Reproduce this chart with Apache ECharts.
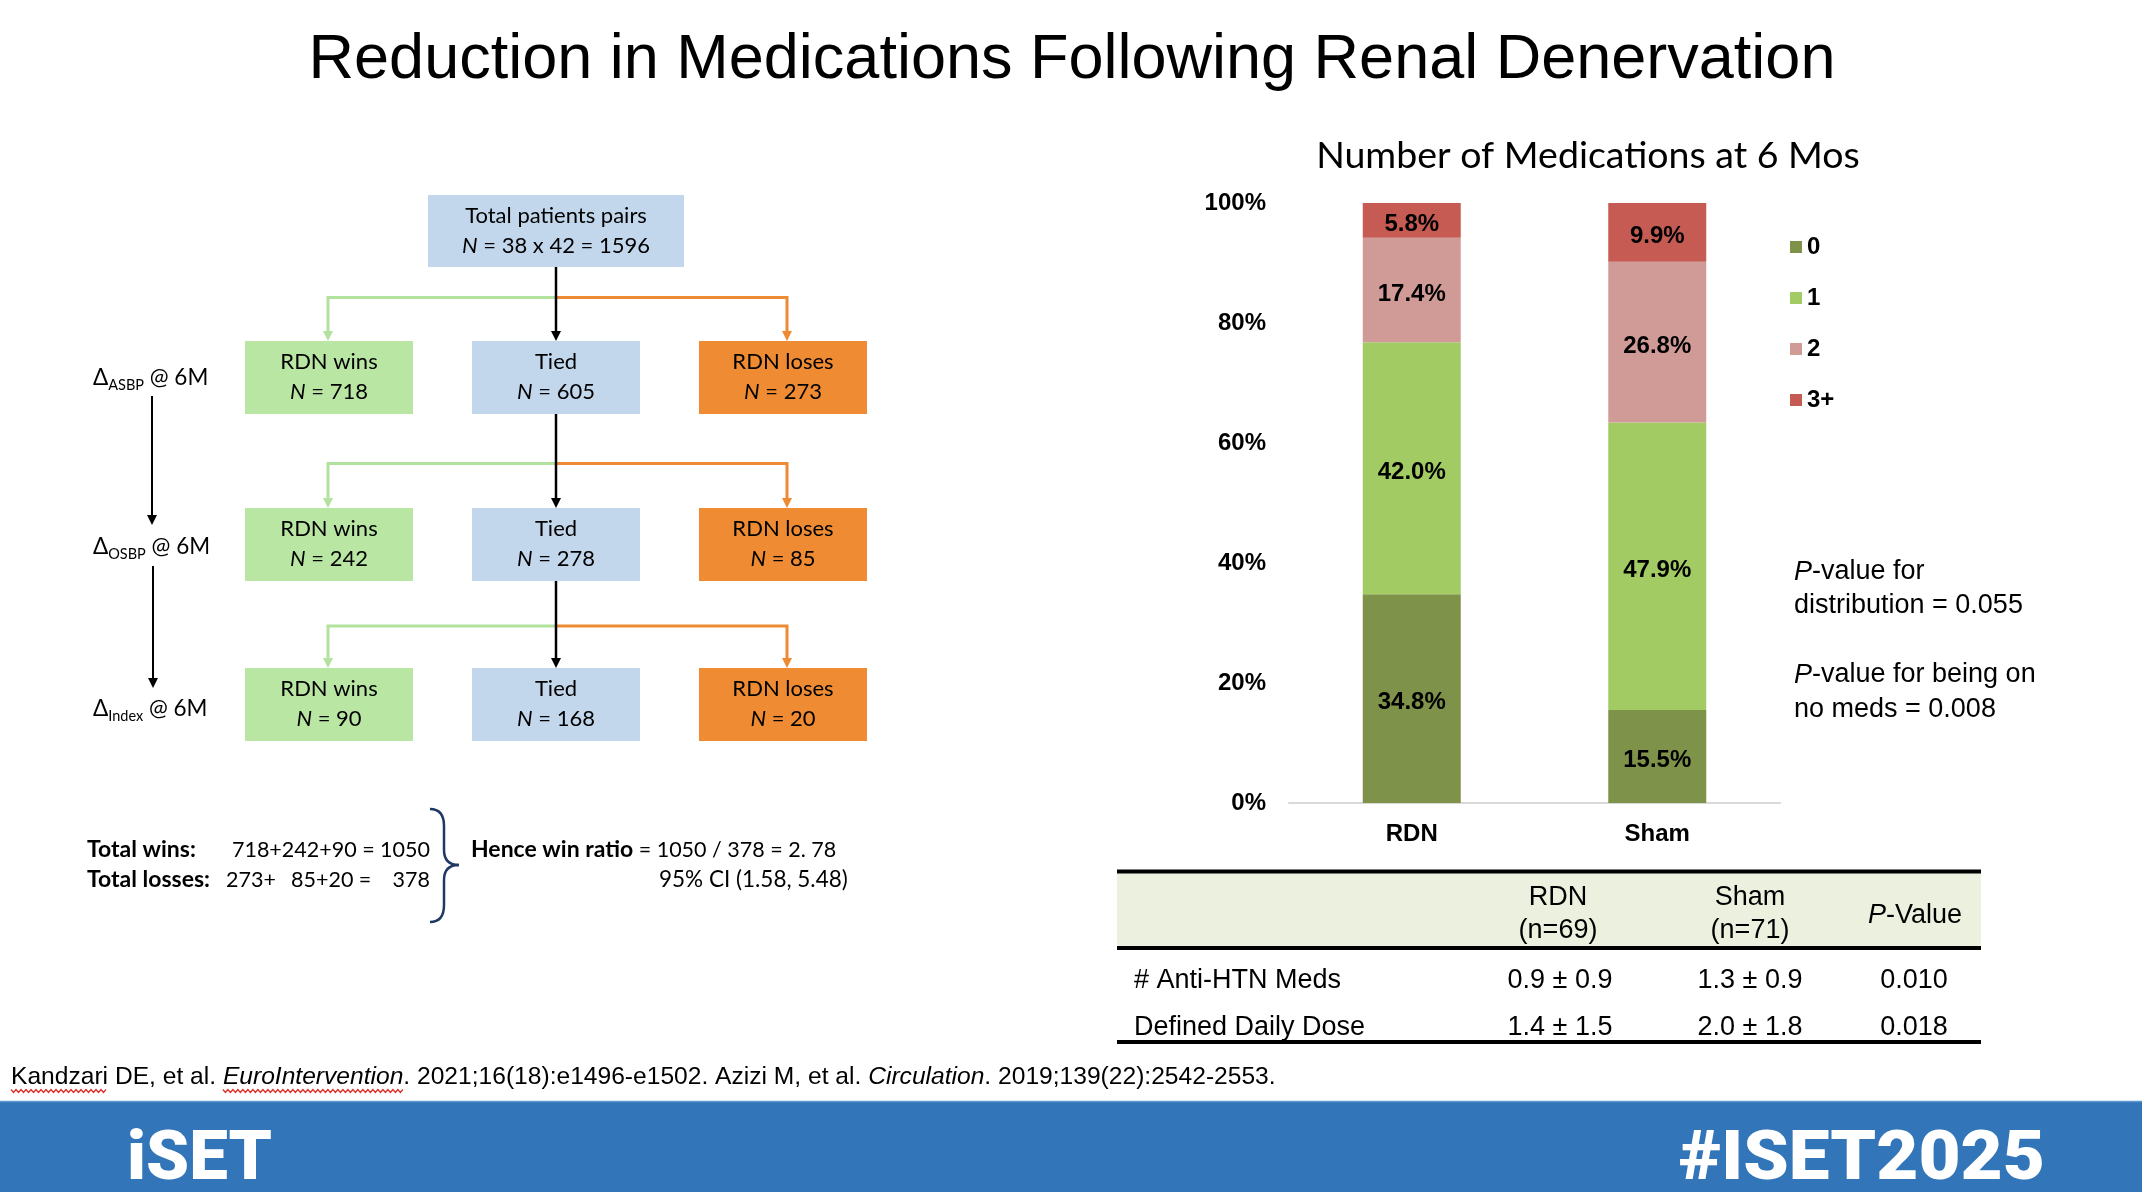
<!DOCTYPE html>
<html><head><meta charset="utf-8">
<script src="https://cdn.jsdelivr.net/npm/echarts@6/dist/echarts.min.js"></script>
<style>html,body{margin:0;padding:0;background:#fff}#c{width:2142px;height:1192px}</style>
</head><body><div id="c"></div>
<script>
// ---------- data ----------
const categories = ['RDN', 'Sham'];
const seriesNames = ['0', '1', '2', '3+'];
const meds0 = [34.8, 15.5];
const meds1 = [42.0, 47.9];
const meds2 = [17.4, 26.8];
const meds3 = [5.8, 9.9];
const yTickStep = 20;
const flowTotal = 'N = 38 x 42 = 1596';
const flowWins = [718, 242, 90];
const flowTied = [605, 278, 168];
const flowLoses = [273, 85, 20];
const flowLevels = ['ASBP', 'OSBP', 'Index'];
const tableHeaders = [['RDN', '(n=69)'], ['Sham', '(n=71)'], ['P-Value']];
const tableRows = ['# Anti-HTN Meds', 'Defined Daily Dose'];
const tableRDN = ['0.9 ± 0.9', '1.4 ± 1.5'];
const tableSham = ['1.3 ± 0.9', '2.0 ± 1.8'];
const tableP = ['0.010', '0.018'];

// ---------- styles ----------
const ARIAL = '"Liberation Sans", Arial, sans-serif';
const CAL = 'Lato, "Open Sans", sans-serif';
const colors = ['#7F9249', '#A2CC63', '#D09B97', '#C55B53'];
const BOXFILL = {wins: '#B9E6A3', tied: '#C3D7EC', loses: '#EE8B33'};
const GREEN = '#B3E19E', ORANGE = '#EC8B34';

const g = [];
function T(x, y, text, st, extra) {
  const s = Object.assign({text: text, fontSize: 22, fontFamily: CAL, fill: '#000',
    align: 'center', verticalAlign: 'middle', textAlign: 'center', textVerticalAlign: 'middle'}, st || {});
  if (st && st.align && !st.textAlign) s.textAlign = st.align;
  g.push(Object.assign({type: 'text', x: x, y: y, z: 20, style: s}, extra || {}));
}
function R(x, y, w, h, fill) { g.push({type: 'rect', z: 5, shape: {x: x, y: y, width: w, height: h}, style: {fill: fill}}); }
function L(x1, y1, x2, y2, c, w) { g.push({type: 'line', z: 8, shape: {x1: x1, y1: y1, x2: x2, y2: y2}, style: {stroke: c, lineWidth: w}}); }
function Q(x1, y1, cx, cy, x2, y2, c, w) { g.push({type: 'bezierCurve', z: 8, shape: {x1: x1, y1: y1, cpx1: cx, cpy1: cy, x2: x2, y2: y2}, style: {stroke: c, lineWidth: w, fill: null}}); }
function head(x, y, c) { g.push({type: 'polygon', z: 9, shape: {points: [[x - 5, y - 10], [x + 5, y - 10], [x, y]]}, style: {fill: c}}); }
const measureCtx = document.createElement('canvas').getContext('2d');
function textW(str, font) { measureCtx.font = font; return measureCtx.measureText(str).width; }

// ---------- title ----------
T(1072, 61, 'Reduction in Medications Following Renal Denervation', {fontSize: 63, fontFamily: ARIAL});

// ---------- flowchart ----------
const colX = {wins: 245, tied: 472, loses: 699};
const BW = 168, BH = 73;
const rowY = [341, 508, 668];
const CX = 556, GX = 328, OX = 787;
const nRich = {i: {fontStyle: 'italic', fontSize: 22, fontFamily: CAL}, r: {fontSize: 22, fontFamily: CAL}};

R(428, 195, 256, 72, BOXFILL.tied);
T(556, 216, 'Total patients pairs');
T(556, 246, '{i|N}{r|' + flowTotal.slice(1) + '}', {rich: nRich});

const srcBottoms = [267, rowY[0] + BH, rowY[1] + BH];
const branchYs = [297.5, 463.5, 626];
for (let i = 0; i < 3; i++) {
  const top = rowY[i];
  const by = branchYs[i];
  g.push({type: 'polyline', z: 7, shape: {points: [[CX, by], [GX, by], [GX, top - 9]]}, style: {stroke: GREEN, lineWidth: 3, fill: null}});
  head(GX, top, GREEN);
  g.push({type: 'polyline', z: 7, shape: {points: [[CX, by], [OX, by], [OX, top - 9]]}, style: {stroke: ORANGE, lineWidth: 3, fill: null}});
  head(OX, top, ORANGE);
  L(CX, srcBottoms[i], CX, top - 9, '#000', 2.5);
  head(CX, top, '#000');
  const vals = {wins: flowWins[i], tied: flowTied[i], loses: flowLoses[i]};
  const titles = {wins: 'RDN wins', tied: 'Tied', loses: 'RDN loses'};
  ['wins', 'tied', 'loses'].forEach(function (k) {
    R(colX[k], top, BW, BH, BOXFILL[k]);
    T(colX[k] + BW / 2, top + 21, titles[k]);
    T(colX[k] + BW / 2, top + 51, '{i|N}{r| = ' + vals[k] + '}', {rich: nRich});
  });
}
// left labels
const lvlY = [378, 547, 709];
for (let i = 0; i < 3; i++) {
  T(93, lvlY[i], '{a|Δ}{s|' + flowLevels[i] + '}{a| @ 6M}', {
    align: 'left', textAlign: 'left',
    rich: {a: {fontSize: 22.5, fontFamily: CAL, lineHeight: 30}, s: {fontSize: 14.5, fontFamily: CAL, lineHeight: 14, verticalAlign: 'bottom'}}
  });
}
L(152, 396, 152, 515, '#000', 2);
head(152, 525, '#000');
L(153, 566, 153, 678, '#000', 2);
head(153, 688, '#000');

// summary
const LEFT = {align: 'left', textAlign: 'left', fontSize: 21.5};
const BOLD = {align: 'left', textAlign: 'left', fontSize: 23, fontWeight: 'bold'};
T(87, 850, 'Total wins:', BOLD);
T(430, 850, flowWins.join('+') + ' = ' + flowWins.reduce(function (a, b) { return a + b; }, 0), {align: 'right', textAlign: 'right', fontSize: 21.5});
T(87, 880, 'Total losses:', BOLD);
T(226, 880, flowLoses[0] + '+', LEFT);
T(291, 880, flowLoses[1] + '+' + flowLoses[2] + ' =', LEFT);
T(430, 880, String(flowLoses.reduce(function (a, b) { return a + b; }, 0)), {align: 'right', textAlign: 'right', fontSize: 21.5});
// brace
const BC = '#1F3864';
Q(430, 809, 444, 809, 444, 826, BC, 2.5);
L(444, 826, 444, 850, BC, 2.5);
Q(444, 850, 444, 865, 459, 865, BC, 2.5);
Q(459, 865, 444, 865, 444, 880, BC, 2.5);
L(444, 880, 444, 905, BC, 2.5);
Q(444, 905, 444, 922, 430, 922, BC, 2.5);
T(471, 850, '{b|Hence win ratio}{r| = 1050 / 378 = 2. 78}', Object.assign({}, LEFT, {
  rich: {b: {fontWeight: 'bold', fontSize: 23, fontFamily: CAL}, r: {fontSize: 21.5, fontFamily: CAL}}}));
T(659, 880, '95% CI (1.58, 5.48)', {align: 'left', textAlign: 'left', fontSize: 22.5});

// ---------- chart title & annotations ----------
T(1588, 156, 'Number of Medications at 6 Mos', {fontSize: 37.5});
const pRich = {i: {fontStyle: 'italic', fontSize: 27, fontFamily: ARIAL}, r: {fontSize: 27, fontFamily: ARIAL}};
const PL = {align: 'left', textAlign: 'left', fontSize: 27, fontFamily: ARIAL, rich: pRich};
T(1794, 572, '{i|P}{r|-value for}', PL);
T(1794, 606, '{r|distribution = 0.055}', PL);
T(1794, 675, '{i|P}{r|-value for being on}', PL);
T(1794, 710, '{r|no meds = 0.008}', PL);

// ---------- table ----------
R(1117, 872, 864, 76, '#EBF0DF');
L(1117, 871.5, 1981, 871.5, '#000', 4);
L(1117, 948, 1981, 948, '#000', 4);
L(1117, 1042, 1981, 1042, '#000', 4);
const TS = {fontSize: 27, fontFamily: ARIAL};
const pRichT = {i: {fontStyle: 'italic', fontSize: 27, fontFamily: ARIAL}, r: {fontSize: 27, fontFamily: ARIAL}};
const colC = [1558, 1750, 1915];
tableHeaders.forEach(function (h, j) {
  if (h.length === 2) { T(colC[j], 898, h[0], TS); T(colC[j], 931, h[1], TS); }
  else T(colC[j], 915.5, '{i|P}{r|' + h[0].slice(1) + '}', Object.assign({}, TS, {rich: pRichT}));
});
const valC = [1560, 1750, 1914];
const rowYs = [981, 1027.5];
tableRows.forEach(function (r, i) {
  T(1134, rowYs[i], r, Object.assign({}, TS, {align: 'left', textAlign: 'left'}));
  T(valC[0], rowYs[i], tableRDN[i], TS);
  T(valC[1], rowYs[i], tableSham[i], TS);
  T(valC[2], rowYs[i], tableP[i], TS);
});

// ---------- footnote ----------
const FN = 24.6;
const fnParts = ['Kandzari DE, et al. ', 'EuroIntervention', '. 2021;16(18):e1496-e1502. Azizi M, et al. ', 'Circulation', '. 2019;139(22):2542-2553.'];
T(11, 1077, '{r|' + fnParts[0] + '}{i|' + fnParts[1] + '}{r|' + fnParts[2] + '}{i|' + fnParts[3] + '}{r|' + fnParts[4] + '}', {
  align: 'left', textAlign: 'left', fontSize: FN, fontFamily: ARIAL,
  rich: {r: {fontSize: FN, fontFamily: ARIAL}, i: {fontSize: FN, fontFamily: ARIAL, fontStyle: 'italic'}}});
function squiggle(x1, x2, y) {
  const pts = []; let up = true;
  for (let x = x1; x <= x2; x += 2.5) { pts.push([x, up ? y - 1.5 : y + 1.5]); up = !up; }
  g.push({type: 'polyline', z: 9, shape: {points: pts}, style: {stroke: '#E0302A', lineWidth: 1.3, fill: null}});
}
const fR = FN + 'px "Liberation Sans"', fI = 'italic ' + FN + 'px "Liberation Sans"';
const kW = textW('Kandzari', fR);
const eX = 11 + textW(fnParts[0], fR);
const eW = textW(fnParts[1], fI);
squiggle(11, 11 + kW, 1091);
squiggle(eX, eX + eW, 1091);

// ---------- footer ----------
R(0, 1101, 2142, 91, '#3276B9');
L(0, 1101.5, 2142, 1101.5, '#5F97CF', 1.5);
T(127, 1162, 'iSET', {align: 'left', textAlign: 'left', fontSize: 69, fontFamily: 'Roboto, sans-serif', fontWeight: 900, fill: '#fff'});
T(2045, 1162, '#ISET2025', {align: 'right', textAlign: 'right', fontSize: 69, fontFamily: 'Roboto, sans-serif', fontWeight: 900, fill: '#fff'}, {scaleX: 1.055});

// ---------- chart ----------
const seriesData = [meds0, meds1, meds2, meds3];
const option = {
  animation: false,
  backgroundColor: '#fff',
  textStyle: {fontFamily: ARIAL},
  grid: {left: 1289, top: 203, width: 491, height: 600, containLabel: false},
  legend: {
    data: seriesNames, orient: 'vertical', left: 1785, top: 230,
    itemWidth: 12, itemHeight: 12, itemGap: 27, icon: 'rect',
    textStyle: {fontSize: 24, fontWeight: 'bold', color: '#000', fontFamily: ARIAL, lineHeight: 24}
  },
  xAxis: {
    type: 'category', data: categories,
    axisLine: {lineStyle: {color: '#D9D9D9', width: 2}}, axisTick: {show: false},
    axisLabel: {fontSize: 24, fontWeight: 'bold', color: '#000', margin: 19, fontFamily: ARIAL}
  },
  yAxis: {
    type: 'value', min: 0, max: 100, interval: yTickStep,
    axisLine: {show: false}, axisTick: {show: false}, splitLine: {show: false},
    axisLabel: {formatter: '{value}%', fontSize: 24, fontWeight: 'bold', color: '#000', margin: 23, fontFamily: ARIAL}
  },
  series: seriesNames.map(function (n, k) {
    return {
      name: n, type: 'bar', stack: 'meds', barWidth: 98,
      itemStyle: {color: colors[k]},
      label: {show: true, position: 'inside', offset: [0, 4], formatter: function (p) { return p.value.toFixed(1) + '%'; },
        fontSize: 24, fontWeight: 'bold', color: '#000', fontFamily: ARIAL},
      data: seriesData[k]
    };
  }),
  graphic: {elements: g}
};
const chart = echarts.init(document.getElementById('c'));
chart.setOption(option);
</script></body></html>
